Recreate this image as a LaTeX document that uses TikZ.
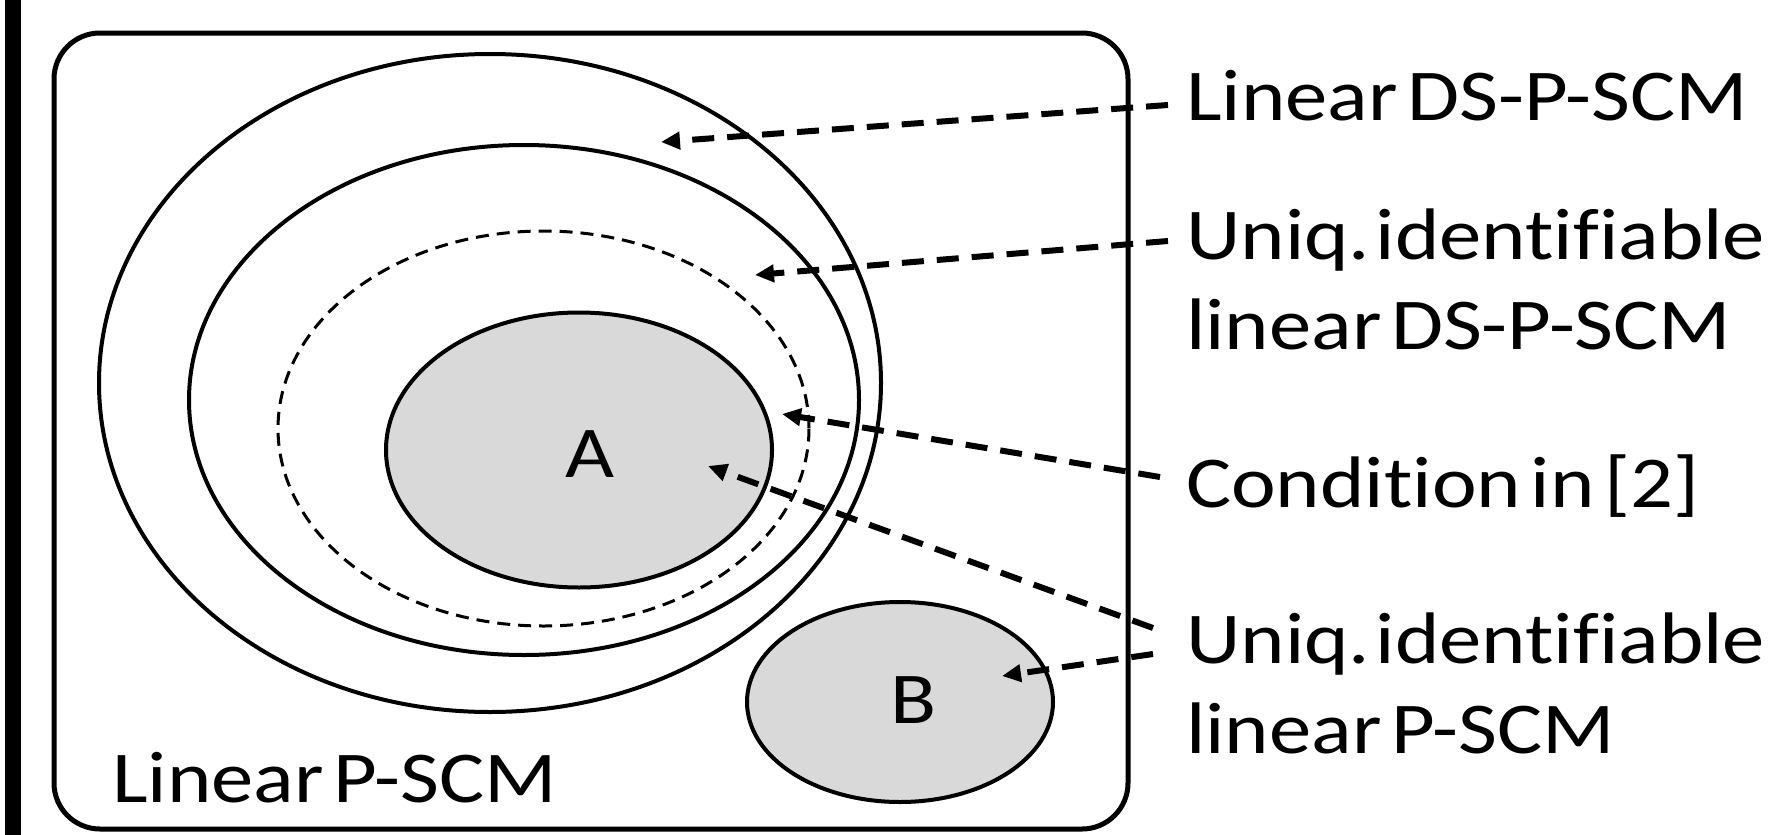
\documentclass[tikz,border=0pt]{standalone}
\usepackage{fontspec}
\setmainfont{Carlito}[FakeStretch=1.16, WordSpace=0.5, Ligatures={NoCommon}]
\frenchspacing
\usetikzlibrary{arrows.meta}
\definecolor{setgray}{HTML}{D9D9D9}
\begin{document}
\begin{tikzpicture}[x=1pt,y=-1pt,
  region/.style={line width=4pt},
  shaded/.style={region, fill=setgray},
  condset/.style={line width=3pt, dash pattern=on 13pt off 8pt},
  lead/.style={line width=6pt, dash pattern=on 22pt off 13pt,
    -{Triangle[length=19pt,width=17pt]}},
  caption/.style={anchor=base west, inner sep=0pt, align=left,
    font=\fontsize{73}{90}\selectfont\frenchspacing},
  letter/.style={anchor=base, inner sep=0pt, font=\fontsize{73}{90}\selectfont}
]
\useasboundingbox (0,0) rectangle (1772,835);

% thick bar on the left edge
\fill (5,0) rectangle (21,835);

% outer frame: linear P-SCM
\draw[line width=5pt, rounded corners=46pt] (54,33) rectangle (1128,829);

% nested model classes
\draw[region] (490,383) ellipse [x radius=391, y radius=329];
\draw[region] (524,400) ellipse [x radius=335, y radius=255];
\draw[condset] (543.5,428.5) ellipse [x radius=265.5, y radius=197.5];
\draw[shaded] (579,450) ellipse [x radius=193, y radius=137.5];
\draw[shaded] (900,702) ellipse [x radius=153, y radius=100];

% labels (two-line captions are placed by the baseline of their last line)
\node[letter] (A) at (590,477) {A};
\node[letter] (B) at (914,723) {B};
\node[caption] (frame) at (112,802) {Linear P-SCM};
\node[caption] (dspscm) at (1186,120) {Linear DS-P-SCM};
\node[caption] (uniqds) at (1186,349) {Uniq.\kern-4pt\ identifiable\\linear DS-P-SCM};
\node[caption] (cond) at (1186,507) {Condition in [2]};
\node[caption] (uniqp) at (1186,753) {Uniq.\kern-4pt\ identifiable\\linear P-SCM};

% arrow ends
\coordinate (t1) at (1168,105);  \coordinate (h1) at (661,142);
\coordinate (t2) at (1168,241);  \coordinate (h2) at (755,275);
\coordinate (t3) at (1160,477);  \coordinate (h3) at (782,414);
\coordinate (t4) at (1153,628);  \coordinate (h4) at (708,466);
\coordinate (t5) at (1153,654);  \coordinate (h5) at (1002,676);

\draw[lead] (t1) -- (h1);
\draw[lead] (t2) -- (h2);
\draw[lead] (t3) -- (h3);
\draw[lead] (t4) -- (h4);
\draw[lead] (t5) -- (h5);
\end{tikzpicture}
\end{document}
